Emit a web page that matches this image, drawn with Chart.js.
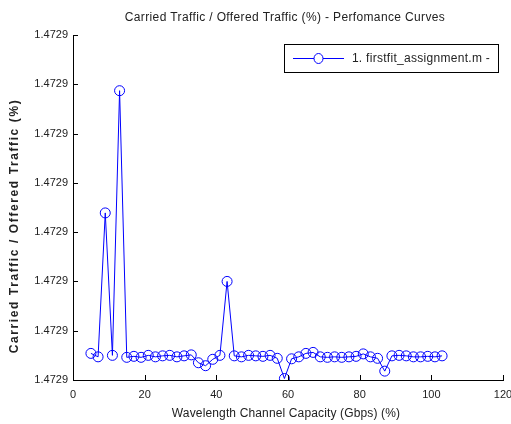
<!DOCTYPE html>
<html>
<head>
<meta charset="utf-8">
<script src="https://cdn.jsdelivr.net/npm/chart.js@4.4.1/dist/chart.umd.min.js"></script>
<style>
  html, body { margin: 0; padding: 0; background: #fff; }
  #wrap { width: 511px; height: 424px; }
</style>
</head>
<body>
<div id="wrap"><canvas id="c" width="511" height="424"></canvas></div>
<script>
// ── data ──
const capacity = [5, 7, 9, 11, 13, 15, 17, 19, 21, 23, 25, 27, 29, 31, 33, 35, 37, 39, 41, 43,
                  45, 47, 49, 51, 53, 55, 57, 59, 61, 63, 65, 67, 69, 71, 73, 75, 77, 79, 81, 83,
                  85, 87, 89, 91, 93, 95, 97, 99, 101, 103];
const carriedRatio = [
  1.47290054, 1.47290047, 1.47290339, 1.47290050, 1.47290587, 1.47290046, 1.47290048, 1.47290046, 1.47290050, 1.47290047,
  1.47290049, 1.47290050, 1.47290047, 1.47290049, 1.47290051, 1.47290035, 1.47290029, 1.47290042, 1.47290050, 1.47290200,
  1.47290049, 1.47290047, 1.47290050, 1.47290049, 1.47290048, 1.47290050, 1.47290044, 1.47290003, 1.47290043, 1.47290047,
  1.47290054, 1.47290056, 1.47290047, 1.47290046, 1.47290047, 1.47290046, 1.47290047, 1.47290048, 1.47290053, 1.47290047,
  1.47290044, 1.47290018, 1.47290049, 1.47290050, 1.47290049, 1.47290047, 1.47290047, 1.47290048, 1.47290047, 1.47290049
];
const seriesLabel = '1. firstfit_assignment.m -';
const chartTitle = 'Carried Traffic / Offered Traffic (%) - Perfomance Curves';
const xTitle = 'Wavelength Channel Capacity (Gbps) (%)';
const yTitle = 'Carried Traffic / Offered Traffic (%)';

const FONT = "'Liberation Sans', Arial, sans-serif";
const TXT = '#222';
const BLUE = '#0000ff';

// text stretched to a given width (matlab renders its labels a bit loose)
function wideText(ctx, text, cx, cy, font, width, angle = 0) {
  ctx.save();
  ctx.font = font;
  ctx.fillStyle = TXT;
  ctx.textBaseline = 'middle';
  ctx.textAlign = 'left';
  const w0 = ctx.measureText(text).width;
  if ('letterSpacing' in ctx) ctx.letterSpacing = ((width - w0) / (text.length - 1)).toFixed(2) + 'px';
  const w = ctx.measureText(text).width;
  ctx.translate(cx, cy);
  ctx.rotate(angle);
  ctx.fillText(text, -w / 2, 0);
  ctx.restore();
}

// titles, inward tick marks, boxed legend
const decor = {
  id: 'decor',
  afterDraw(chart) {
    const { ctx, chartArea: a, scales: { x, y } } = chart;
    const mid = (a.left + a.right) / 2;
    wideText(ctx, chartTitle, mid - 3, 18, '12px ' + FONT, 320);
    wideText(ctx, xTitle, mid - 2, 414, '12px ' + FONT, 228);
    wideText(ctx, yTitle, 15, 226, '600 12px ' + FONT, 253, -Math.PI / 2);

    ctx.save();
    ctx.strokeStyle = '#000';
    ctx.lineWidth = 1;
    ctx.beginPath();
    x.ticks.forEach((t, i) => {
      const px = Math.round(x.getPixelForTick(i)) + 0.5;
      ctx.moveTo(px, a.bottom); ctx.lineTo(px, a.bottom - 5);
    });
    y.ticks.forEach((t, i) => {
      const py = Math.round(y.getPixelForTick(i)) + 0.5;
      ctx.moveTo(a.left, py); ctx.lineTo(a.left + 5, py);
    });
    ctx.stroke();

    const ds = chart.data.datasets[0];
    ctx.fillStyle = '#fff';
    ctx.fillRect(284.5, 44.5, 214, 28);
    ctx.strokeStyle = '#000';
    ctx.strokeRect(284.5, 44.5, 214, 28);
    ctx.strokeStyle = ds.borderColor;
    ctx.beginPath();
    ctx.moveTo(293, 58.5); ctx.lineTo(344, 58.5);
    ctx.stroke();
    ctx.beginPath();
    ctx.ellipse(318.5, 58.5, 4.5, 5, 0, 0, Math.PI * 2);
    ctx.fill();
    ctx.stroke();
    ctx.restore();
    wideText(ctx, ds.label, 352 + 69, 58.5, '12px ' + FONT, 138);
  }
};

new Chart(document.getElementById('c'), {
  type: 'line',
  data: {
    datasets: [{
      label: seriesLabel,
      data: capacity.map((c, i) => ({ x: c, y: carriedRatio[i] })),
      borderColor: BLUE,
      borderWidth: 1,
      pointRadius: 5,
      pointBorderWidth: 1,
      pointBackgroundColor: 'rgba(0,0,0,0)',
      pointBorderColor: BLUE,
      tension: 0
    }]
  },
  options: {
    responsive: false,
    animation: false,
    devicePixelRatio: 1,
    layout: { padding: { top: 35, right: 0, left: 0, bottom: 0 } },
    plugins: {
      legend: { display: false },
      tooltip: { enabled: false },
      title: { display: false }
    },
    scales: {
      x: {
        type: 'linear', min: 0, max: 120,
        ticks: { stepSize: 20, color: TXT, padding: 8, font: { family: FONT, size: 11 } },
        grid: { display: false, drawTicks: false },
        border: { display: true, color: '#000', width: 1 },
        afterFit(s) { s.height = 44; s.paddingRight = 8; s.paddingLeft = 0; }
      },
      y: {
        type: 'linear', min: 1.4729, max: 1.472907,
        ticks: { stepSize: 0.000001, color: TXT, padding: 5, font: { family: FONT, size: 11 },
                 callback: v => v.toFixed(4) },
        grid: { display: false, drawTicks: false },
        border: { display: true, color: '#000', width: 1 },
        afterFit(s) { s.width = 73; }
      }
    }
  },
  plugins: [decor]
});
</script>
</body>
</html>
